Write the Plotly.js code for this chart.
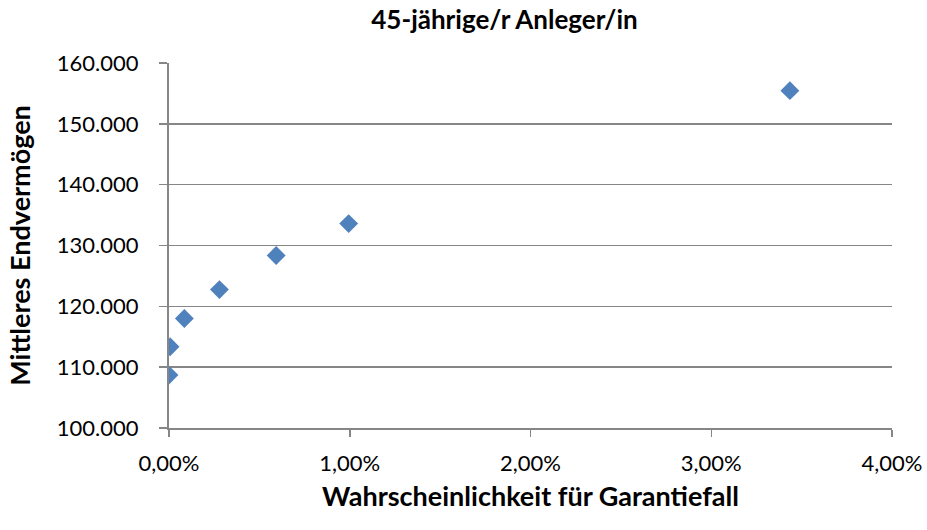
<!DOCTYPE html>
<html>
<head>
<meta charset="utf-8">
<script src="https://cdn.plot.ly/plotly-3.0.1.min.js"></script>
<style>html,body{margin:0;padding:0;background:#fff;}#chart{width:927px;height:530px;}</style>
</head>
<body>
<div id="chart"></div>
<script>
// Wahrscheinlichkeit für Garantiefall (in %)
const garantiefallProzent = [0.0, 0.006, 0.085, 0.279, 0.593, 0.994, 3.435];
// Mittleres Endvermögen
const endvermoegen = [108700, 113350, 118000, 122750, 128350, 133600, 155450];
const xTicks = [0, 1, 2, 3, 4];
const xTickLabels = ['0,00%', '1,00%', '2,00%', '3,00%', '4,00%'];
const yTicks = [100000, 110000, 120000, 130000, 140000, 150000, 160000];

const FONT = 'Lato, "Open Sans", "Liberation Sans", sans-serif';

const trace = {
  type: 'scatter',
  mode: 'markers',
  x: garantiefallProzent,
  y: endvermoegen,
  marker: {symbol: 'diamond', size: 14.5, color: '#4F81BD', line: {width: 0}},
  hoverinfo: 'x+y'
};

const layout = {
  width: 927, height: 530,
  margin: {l: 169, r: 35, t: 63, b: 102, pad: 0},
  paper_bgcolor: '#ffffff', plot_bgcolor: '#ffffff',
  separators: ',.',
  showlegend: false,
  font: {family: FONT, size: 22, color: '#000000'},
  title: {
    text: '<b>45-jährige/r Anleger/in</b>',
    font: {family: FONT, size: 26, color: '#000000'},
    x: 0.464, xref: 'paper', xanchor: 'center',
    y: 0.962, yref: 'container', yanchor: 'middle'
  },
  xaxis: {
    range: [0, 4],
    tickmode: 'array', tickvals: xTicks, ticktext: xTickLabels,
    showgrid: false, zeroline: false,
    showline: true, linecolor: '#868686', linewidth: 2,
    ticks: 'outside', ticklen: 7, tickcolor: '#868686', tickwidth: 1.5,
    tickfont: {family: FONT, size: 22, color: '#000000'},
    ticklabelstandoff: 8,
    title: {text: '<b>Wahrscheinlichkeit für Garantiefall</b>', font: {family: FONT, size: 27, color: '#000000'}, standoff: 12}
  },
  yaxis: {
    range: [100000, 160000],
    tickmode: 'array', tickvals: yTicks,
    tickformat: ',.0f',
    showgrid: true, gridcolor: '#868686', gridwidth: 1.5,
    zeroline: false,
    showline: true, linecolor: '#868686', linewidth: 2,
    ticks: 'outside', ticklen: 8, tickcolor: '#868686', tickwidth: 1.5,
    tickfont: {family: FONT, size: 22, color: '#000000'},
    ticklabelstandoff: 16,
    title: {text: '<b>Mittleres Endvermögen</b>', font: {family: FONT, size: 27, color: '#000000'}, standoff: 18}
  }
};

Plotly.newPlot('chart', [trace], layout, {staticPlot: true, displayModeBar: false});
</script>
</body>
</html>
